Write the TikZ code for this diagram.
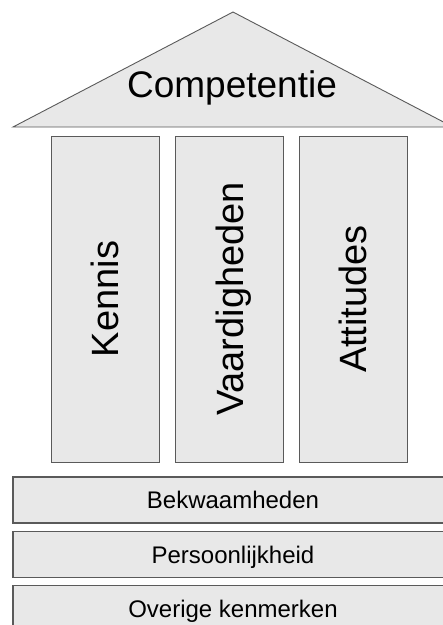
\documentclass[tikz,border=0pt]{standalone}
\usepackage{fontspec}
\setmainfont{Liberation Sans}
\definecolor{pillarfill}{HTML}{E8E8E8}
\definecolor{pillarline}{HTML}{5A5A5A}
\begin{document}
\begin{tikzpicture}[x=1pt,y=-1pt,
  block/.style={draw=pillarline, fill=pillarfill, line width=0.9pt, inner sep=0pt},
  pillar/.style={block, rotate=90, minimum width=326pt, minimum height=108pt,
    text height=27pt, text depth=0pt, font=\fontsize{38}{40}\selectfont},
  layer/.style={block, line width=1.3pt, minimum width=440pt, minimum height=46pt,
    text height=17pt, text depth=0pt, font=\fontsize{24}{28}\selectfont}]
  \useasboundingbox (0,0) rectangle (443,625);
  \clip (0,0) rectangle (443,625);

  % roof
  \coordinate (apex) at (233,12);
  \coordinate (eaveL) at (13,127);
  \coordinate (eaveR) at (453,127);
  \draw [block] (eaveL) -- (apex) -- (eaveR) -- cycle;
  \node (roof) [anchor=base, font=\fontsize{37}{40}\selectfont] at (232,97) {Competentie};

  % pillars
  \foreach \x/\name/\txt in {105/kennis/Kennis, 229.5/vaard/Vaardigheden, 353/att/Attitudes}
    \node (\name) [pillar] at (\x,299) {\txt};

  % foundation
  \foreach \y/\name/\txt in {500/bekw/Bekwaamheden, 554.5/pers/Persoonlijkheid, 608.5/overig/Overige kenmerken}
    \node (\name) [layer] at (233,\y) {\txt};
\end{tikzpicture}
\end{document}
